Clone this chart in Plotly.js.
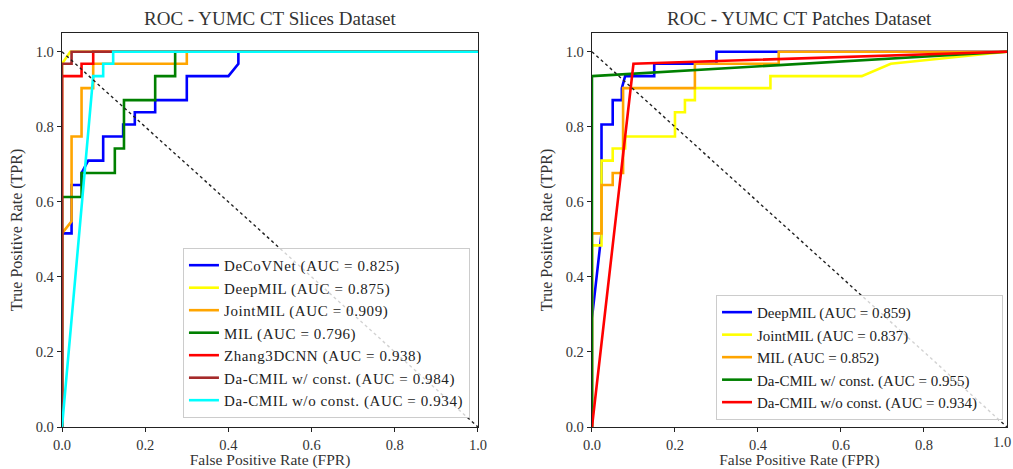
<!DOCTYPE html>
<html>
<head>
<meta charset="utf-8">
<script src="https://cdn.plot.ly/plotly-3.0.1.min.js"></script>
<style>
html,body{margin:0;padding:0;background:#fff;}
#chart{width:1013px;height:469px;}
.legendtext{letter-spacing:0.6px;}
</style>
</head>
<body>
<div id="chart"></div>
<script>
// ---- Left panel: YUMC CT Slices ----
const slicesNames = ['DeCoVNet (AUC = 0.825)','DeepMIL (AUC = 0.875)','JointMIL (AUC = 0.909)','MIL (AUC = 0.796)','Zhang3DCNN (AUC = 0.938)','Da-CMIL w/ const. (AUC = 0.984)','Da-CMIL w/o const. (AUC = 0.934)'];
const decovnetFpr = [0,0,0.023,0.023,0.047,0.047,0.063,0.099,0.099,0.147,0.147,0.175,0.175,0.224,0.224,0.30,0.30,0.40,0.424,0.424,1];
const decovnetTpr = [0,0.516,0.516,0.645,0.645,0.677,0.71,0.71,0.774,0.774,0.806,0.806,0.839,0.839,0.871,0.871,0.935,0.935,0.968,1,1];
const deepmilSFpr = [0,0,0.02,1];
const deepmilSTpr = [0,0.968,1,1];
const jointmilSFpr = [0,0,0.023,0.023,0.047,0.047,0.075,0.075,0.30,0.30,1];
const jointmilSTpr = [0,0.516,0.548,0.774,0.774,0.903,0.903,0.968,0.968,1,1];
const milSFpr = [0,0,0.047,0.047,0.127,0.127,0.149,0.149,0.224,0.224,0.272,0.272,1];
const milSTpr = [0,0.613,0.613,0.677,0.677,0.742,0.742,0.871,0.871,0.935,0.935,1,1];
const zhangFpr = [0,0,0.047,0.047,0.075,0.075,1];
const zhangTpr = [0,0.935,0.935,0.968,0.968,1,1];
const dacmilWSFpr = [0,0,0.023,0.023,1];
const dacmilWSTpr = [0,0.968,0.968,1,1];
const dacmilWoSFpr = [0,0.075,0.099,0.099,0.123,0.123,1];
const dacmilWoSTpr = [0,0.935,0.935,0.968,0.968,1,1];

// ---- Right panel: YUMC CT Patches ----
const patchesNames = ['DeepMIL (AUC = 0.859)','JointMIL (AUC = 0.837)','MIL (AUC = 0.852)','Da-CMIL w/ const. (AUC = 0.955)','Da-CMIL w/o const. (AUC = 0.934)'];
const deepmilPFpr = [0,0,0.023,0.023,0.05,0.05,0.072,0.072,0.08,0.15,0.15,0.30,0.30,1];
const deepmilPTpr = [0,0.29,0.516,0.806,0.806,0.871,0.871,0.903,0.935,0.935,0.968,0.968,1,1];
const jointmilPFpr = [0,0,0.023,0.023,0.05,0.05,0.08,0.08,0.2,0.2,0.224,0.224,0.248,0.248,0.43,0.43,0.65,0.72,1];
const jointmilPTpr = [0,0.484,0.484,0.71,0.71,0.742,0.742,0.774,0.774,0.839,0.839,0.871,0.871,0.903,0.903,0.935,0.935,0.968,1];
const milPFpr = [0,0,0.023,0.023,0.05,0.05,0.075,0.075,0.248,0.248,0.45,0.45,1];
const milPTpr = [0,0.516,0.516,0.645,0.645,0.677,0.677,0.903,0.903,0.968,0.968,1,1];
const dacmilWPFpr = [0,0,1];
const dacmilWPTpr = [0,0.935,1];
const dacmilWoPFpr = [0,0.1,1];
const dacmilWoPTpr = [0,0.968,1];

const chanceFpr = [0,1];
const chanceTpr = [1,0];
const tickVals = [0,0.2,0.4,0.6,0.8,1.0];
const rightEdgeTick = '1.0';

const slicesColors = ['#0000ff','#ffff00','#ffa500','#008000','#ff0000','#a52a2a','#00ffff'];
const patchesColors = ['#0000ff','#ffff00','#ffa500','#008000','#ff0000'];

const slicesData = [[decovnetFpr,decovnetTpr],[deepmilSFpr,deepmilSTpr],[jointmilSFpr,jointmilSTpr],[milSFpr,milSTpr],[zhangFpr,zhangTpr],[dacmilWSFpr,dacmilWSTpr],[dacmilWoSFpr,dacmilWoSTpr]];
const patchesData = [[deepmilPFpr,deepmilPTpr],[jointmilPFpr,jointmilPTpr],[milPFpr,milPTpr],[dacmilWPFpr,dacmilWPTpr],[dacmilWoPFpr,dacmilWoPTpr]];

const FONT = 'Liberation Serif, Times New Roman, serif';
const traces = [];
slicesData.forEach((d,i)=>traces.push({x:d[0],y:d[1],type:'scatter',mode:'lines',name:slicesNames[i],
  line:{color:slicesColors[i],width:2.6},xaxis:'x',yaxis:'y',legend:'legend'}));
traces.push({x:chanceFpr,y:chanceTpr,type:'scatter',mode:'lines',showlegend:false,line:{color:'#222',width:1.4,dash:'dot'},xaxis:'x',yaxis:'y'});
patchesData.forEach((d,i)=>traces.push({x:d[0],y:d[1],type:'scatter',mode:'lines',name:patchesNames[i],
  line:{color:patchesColors[i],width:2.6},xaxis:'x2',yaxis:'y2',legend:'legend2'}));
traces.push({x:chanceFpr,y:chanceTpr,type:'scatter',mode:'lines',showlegend:false,line:{color:'#222',width:1.4,dash:'dot'},xaxis:'x2',yaxis:'y2'});

function xa(domain, anchor){
  return {domain:domain,anchor:anchor,range:[0,1],tickvals:tickVals,tickformat:'.1f',ticks:'outside',ticklen:4,tickcolor:'#222',
    showline:true,mirror:true,linecolor:'#222',linewidth:1.3,showgrid:false,zeroline:false,
    tickfont:{family:FONT,size:14.5,color:'#333'},
    title:{text:'False Positive Rate (FPR)',font:{family:FONT,size:15.5,color:'#333'},standoff:7}};
}
function ya(anchor){
  return {domain:[0,1],anchor:anchor,range:[0,1.05],tickvals:tickVals,tickformat:'.1f',ticks:'outside',ticklen:4,tickcolor:'#222',
    showline:true,mirror:true,linecolor:'#222',linewidth:1.3,showgrid:false,zeroline:false,
    tickfont:{family:FONT,size:14.5,color:'#333'},
    title:{text:'True Positive Rate (TPR)',font:{family:FONT,size:16,color:'#333'},standoff:9}};
}
const legendStyle = {bgcolor:'rgba(255,255,255,0.8)',bordercolor:'#ccc',borderwidth:1,font:{family:FONT,size:15,color:'#222'},
  xanchor:'right',yanchor:'bottom',tracegroupgap:0,itemwidth:30};

const layout = {
  width:1013,height:469,
  margin:{l:62,r:6,t:33,b:42},
  paper_bgcolor:'#fff',plot_bgcolor:'#fff',
  font:{family:FONT,color:'#333'},
  xaxis:xa([0,0.4402],'y'),
  yaxis:ya('x'),
  xaxis2:Object.assign(xa([0.5608,1],'y2'),{tickvals:tickVals.slice(0,5)}),
  yaxis2:ya('x2'),
  legend:Object.assign({x:0.4317,y:0.023},legendStyle),
  legend2:Object.assign({x:0.9958,y:0.018},legendStyle),
  annotations:[
    {text:'ROC - YUMC CT Slices Dataset',xref:'paper',yref:'paper',x:0.2201,y:1,xanchor:'center',yanchor:'bottom',yshift:2,showarrow:false,font:{family:FONT,size:19,color:'#333'}},
    {text:'ROC - YUMC CT Patches Dataset',xref:'paper',yref:'paper',x:0.7804,y:1,xanchor:'center',yanchor:'bottom',yshift:2,showarrow:false,font:{family:FONT,size:19,color:'#333'}},
    {text:rightEdgeTick,xref:'x2',yref:'paper',x:tickVals[5],y:0,xanchor:'right',xshift:6,yanchor:'top',yshift:-5,showarrow:false,font:{family:FONT,size:14.5,color:'#333'}}
  ],
  showlegend:true
};
Plotly.newPlot('chart',traces,layout,{displayModeBar:false,staticPlot:true});
</script>
</body>
</html>
